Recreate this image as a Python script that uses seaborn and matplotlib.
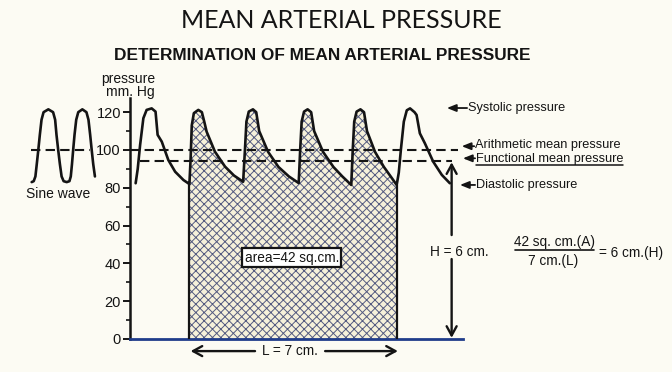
import numpy as np
import matplotlib
matplotlib.use("Agg")
import matplotlib.pyplot as plt
import seaborn as sns

# ---------------- data ----------------
# pressure pulse: x in cm along the record, y in mm Hg
wave_x = [0.19, 0.26, 0.34, 0.45, 0.56, 0.73, 0.86, 0.93, 1.07, 1.29, 1.52, 1.80, 1.96, 2.00,
          2.04, 2.08, 2.15, 2.30, 2.42, 2.50, 2.58, 2.86, 3.20, 3.50, 3.81,
          3.87, 3.92, 4.00, 4.14, 4.25, 4.35, 4.65, 5.00, 5.35, 5.68,
          5.73, 5.78, 5.86, 5.98, 6.10, 6.20, 6.50, 6.85, 7.15, 7.45,
          7.50, 7.55, 7.63, 7.76, 7.88, 7.98, 8.25, 8.55, 8.80, 8.98,
          9.05, 9.12, 9.22, 9.32, 9.43, 9.58, 9.65, 9.76, 9.93, 10.21, 10.50, 10.77]
wave_y = [82.4, 90.0, 102.6, 116.8, 121.2, 122.0, 120.3, 108.0, 104.4, 94.7, 88.5, 84.1, 82.4, 82.0,
          95.0, 113.0, 119.5, 121.2, 120.0, 115.0, 109.7, 99.1, 91.2, 86.5, 83.2,
          100.0, 115.0, 120.3, 121.5, 120.0, 110.0, 99.0, 91.0, 86.0, 82.5,
          100.0, 115.0, 120.3, 121.5, 120.0, 110.0, 99.0, 91.0, 86.0, 81.5,
          100.0, 115.0, 120.3, 121.5, 120.0, 110.0, 99.0, 91.0, 85.5, 81.5,
          88.0, 100.0, 115.0, 121.0, 122.0, 120.0, 118.5, 108.8, 103.5, 93.8, 86.8, 82.4]

# sine wave sketch (x in cycles, y in mm Hg)
sine_t = [-0.03, 0.03, 0.08, 0.12, 0.165, 0.21, 0.26, 0.32, 0.46, 0.60, 0.66, 0.70, 0.75, 0.80,
          0.85, 0.91, 1.00, 1.08, 1.12, 1.155, 1.19, 1.23, 1.28, 1.34, 1.46, 1.58, 1.64, 1.69,
          1.735, 1.78, 1.83]
sine_y = [83.0, 83.5, 86.0, 92.5, 100.0, 108.0, 116.0, 120.0, 121.5, 120.0, 116.0, 108.0, 100.0, 92.5,
          86.0, 83.5, 83.0, 83.5, 86.0, 92.5, 100.0, 108.0, 116.0, 120.0, 121.5, 120.0, 116.0, 108.0,
          100.0, 92.5, 86.0]

arithmetic_mean = 100.0
functional_mean = 94.0
area_start, area_end = 2.0, 8.98          # L = 7 cm
y_ticks = [0, 20, 40, 60, 80, 100, 120]
y_tick_labels = ["0", "20", "40", "60", "80", "100", "120"]

title = "MEAN ARTERIAL PRESSURE"
subtitle = "DETERMINATION OF MEAN ARTERIAL PRESSURE"
side_labels = ["Systolic pressure", "Arithmetic mean pressure",
               "Functional mean pressure", "Diastolic pressure"]
side_label_y = [122.0, 102.5, 95.4, 81.5]

# ---------------- style ----------------
sns.set_theme(style="white")
plt.rcParams["font.family"] = ["Liberation Sans", "DejaVu Sans"]
plt.rcParams["hatch.linewidth"] = 0.7
BG = "#fcfbf3"
INK = "#141414"
BLUE = "#1f3c8a"

W, H = 672, 372
fig = plt.figure(figsize=(W / 100, H / 100), dpi=100, facecolor=BG)

def px_box(x0, y0, x1, y1):
    return [x0 / W, 1 - y1 / H, (x1 - x0) / W, (y1 - y0) / H]

ax = fig.add_axes(px_box(130, 98, 672, 339))
ax.set_facecolor("none")
ax.set_xlim(0, 18.25)
ax.set_ylim(0, 127.5)

# shaded area
wx = np.array(wave_x)
wy = np.array(wave_y)
mask = (wx >= area_start) & (wx <= area_end)
ax.fill_between(wx, 0, wy, where=mask, facecolor="#f6f1da", edgecolor="#545b80",
                hatch="xxxx", linewidth=0, zorder=1)

# waveform
sns.lineplot(x=wave_x, y=wave_y, sort=False, estimator=None, color=INK, lw=1.9, ax=ax, zorder=4)
y_start = wy[wx == area_start][0]
y_end = wy[wx == area_end][0]
ax.plot([area_start, area_start], [0, y_start], color=INK, lw=1.6, zorder=4)
ax.plot([area_end, area_end], [0, y_end], color=INK, lw=1.6, zorder=4)

# mean lines
ax.plot([0, 11.05], [arithmetic_mean, arithmetic_mean], color=INK, lw=1.5,
        dashes=(4.5, 2.5), zorder=3)
ax.plot([0.35, 10.85], [functional_mean, functional_mean], color=INK, lw=1.5,
        dashes=(4.5, 2.5), zorder=3)

# axes look
for s in ["top", "right"]:
    ax.spines[s].set_visible(False)
ax.spines["left"].set_color(INK)
ax.spines["left"].set_linewidth(1.8)
ax.spines["bottom"].set_color(BLUE)
ax.spines["bottom"].set_linewidth(2.0)
ax.spines["bottom"].set_bounds(0, 11.2)
ax.set_xticks([])
ax.set_yticks(y_ticks)
ax.set_yticklabels(y_tick_labels, fontsize=10.5, color=INK)
ax.set_yticks([10, 30, 50, 70, 90, 110], minor=True)
ax.tick_params(axis="y", which="major", direction="out", length=5, width=1.4, color=INK,
               pad=1.5, left=True)
ax.tick_params(axis="y", which="minor", direction="out", length=3, width=1.2, color=INK,
               left=True)

ax.text(-0.07, 137.6, "pressure", ha="center", va="center", fontsize=10, color=INK, clip_on=False)
ax.text(0.02, 130.8, "mm. Hg", ha="center", va="center", fontsize=10, color=INK, clip_on=False)

# side labels with arrows
arrow_heads = [10.67, 11.17, 11.21, 11.11]
arrow_y = [122.2, 102.0, 95.6, 81.5]
text_x = [11.38, 11.62, 11.65, 11.65]
arrow_kw = dict(arrowstyle="-|>,head_length=0.45,head_width=0.18", color=INK, lw=1.3,
                shrinkA=0, shrinkB=0)
texts = []
for lab, yy, hx, tx, ay in zip(side_labels, side_label_y, arrow_heads, text_x, arrow_y):
    ax.annotate("", xy=(hx, ay), xytext=(tx - 0.03, ay), arrowprops=arrow_kw)
    texts.append(ax.text(tx, yy, lab, ha="left", va="center", fontsize=9.2, color=INK))

# underline under "Functional mean pressure"
fig.canvas.draw()
bb = texts[2].get_window_extent()
inv = ax.transData.inverted()
ux0 = inv.transform((bb.x0, bb.y0))[0]
ux1 = inv.transform((bb.x1, bb.y0))[0]
ax.plot([ux0, ux1], [91.8, 91.8], color=INK, lw=1.1, clip_on=False)

# H = 6 cm vertical arrow
h_x = 10.83
open_arrow = dict(arrowstyle="->,head_length=0.55,head_width=0.3", color=INK, lw=1.7,
                  shrinkA=0, shrinkB=0)
ax.annotate("", xy=(h_x, functional_mean - 0.5), xytext=(h_x, 55.0), arrowprops=open_arrow)
ax.annotate("", xy=(h_x, 0.6), xytext=(h_x, 42.3), arrowprops=open_arrow)
ax.text(11.1, 46.2, "H = 6 cm.", ha="center", va="center", fontsize=9.8, color=INK)

# L = 7 cm horizontal arrow
l_y = -6.4
ax.annotate("", xy=(area_start + 0.04, l_y), xytext=(4.21, l_y),
            arrowprops=open_arrow, annotation_clip=False)
ax.annotate("", xy=(area_end + 0.04, l_y), xytext=(6.57, l_y),
            arrowprops=open_arrow, annotation_clip=False)
ax.text(5.39, l_y, "L = 7 cm.", ha="center", va="center", fontsize=9.8, color=INK,
        clip_on=False)

# area box
ax.text(5.45, 42.9, "area=42 sq.cm.", ha="center", va="center", fontsize=9.8, color=INK,
        zorder=6, bbox=dict(boxstyle="square,pad=0.18", fc="white", ec=INK, lw=1.6))

# fraction
ax.text(14.28, 51.5, "42 sq. cm.(A)", ha="center", va="center", fontsize=9.8, color=INK)
ax.plot([12.96, 15.62], [47.1, 47.1], color=INK, lw=1.2)
ax.text(14.24, 41.4, "7 cm.(L)", ha="center", va="center", fontsize=9.8, color=INK)
ax.text(15.79, 45.7, "= 6 cm.(H)", ha="left", va="center", fontsize=9.8, color=INK)

# sine wave sketch
ax2 = fig.add_axes(px_box(25, 98, 100, 339))
ax2.set_facecolor("none")
ax2.set_xlim(-0.226, 1.979)
ax2.set_ylim(0, 127.5)
sns.lineplot(x=sine_t, y=sine_y, sort=False, estimator=None, color=INK, lw=1.9, ax=ax2)
ax2.plot([-0.06, 1.68], [100, 100], color=INK, lw=1.5, dashes=(4.5, 2.5))
ax2.text(0.75, 76.5, "Sine wave", ha="center", va="center", fontsize=10, color=INK)
ax2.axis("off")

# titles
fig.text(0.508, 0.946, title, ha="center", va="center", fontsize=18, color=INK,
         family=["Lato", "Liberation Sans", "DejaVu Sans"], fontweight="normal")
fig.text(0.48, 0.852, subtitle, ha="center", va="center", fontsize=12.4, color=INK,
         fontweight="bold")

fig.savefig("out.png", dpi=100, facecolor=BG)
